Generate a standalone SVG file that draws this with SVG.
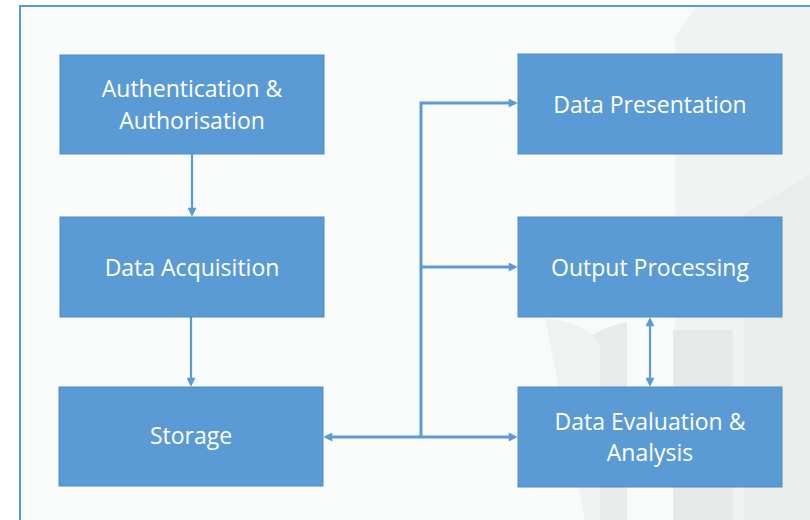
<svg xmlns="http://www.w3.org/2000/svg" width="810" height="520" viewBox="0 0 810 520">
  <defs>
    <style>
      .box { fill: #5b9bd5; stroke: #4f8bc8; stroke-width: 1; }
      .lbl { fill: #ffffff; font-family: "Open Sans", "Noto Sans", "DejaVu Sans", sans-serif; font-size: 23px; text-anchor: middle; }
      .con { fill: none; stroke: #5b9bd5; stroke-linecap: butt; stroke-linejoin: miter; }
      .thin { stroke-width: 2.2; }
      .thick { stroke-width: 3; }
    </style>
    <marker id="ah" viewBox="0 0 10 10" refX="7" refY="5" markerWidth="10" markerHeight="9" markerUnits="userSpaceOnUse" orient="auto-start-reverse">
      <path d="M0,0 L10,5 L0,10 Z" fill="#5b9bd5"/>
    </marker>
  </defs>

  <!-- background -->
  <rect x="0" y="0" width="810" height="520" fill="#ffffff"/>
  <rect x="20" y="6" width="800" height="530" fill="#f9fafa" stroke="#5b9bd5" stroke-width="2"/>

  <!-- faint watermark shapes -->
  <g id="watermark">
    <path d="M675,36 L697,7 L810,7 L810,520 L675,520 Z" fill="#f1f2f2"/>
    <path d="M744,214 L810,175 L810,520 L744,520 Z" fill="#ebecec"/>
    <path d="M673,330 L733,330 L733,520 L673,520 Z" fill="#e7e8e8"/>
    <path d="M545,318 Q575,322 592,335 L600,345 L600,520 L585,520 Z" fill="#f0f1f1"/>
    <path d="M592,335 Q610,325 627,322 L627,520 L600,520 L600,345 Z" fill="#e9eaea"/>
  </g>

  <!-- connectors -->
  <g id="connectors">
    <path class="con thin" d="M192,154 V214" marker-end="url(#ah)"/>
    <path class="con thin" d="M191,317 V384" marker-end="url(#ah)"/>
    <path class="con thick" d="M421,437 V103 H515" marker-end="url(#ah)"/>
    <path class="con thick" d="M421,267 H515" marker-end="url(#ah)"/>
    <path class="con thick" d="M326,437 H515" marker-start="url(#ah)" marker-end="url(#ah)"/>
    <path class="con thin" d="M650,320 V384" marker-start="url(#ah)" marker-end="url(#ah)"/>
  </g>

  <!-- nodes -->
  <g id="node-auth">
    <rect class="box" x="60" y="55" width="264" height="99"/>
    <text class="lbl" x="192" y="97">Authentication &amp;</text>
    <text class="lbl" x="192" y="129">Authorisation</text>
  </g>
  <g id="node-acquisition">
    <rect class="box" x="60" y="217" width="264" height="100"/>
    <text class="lbl" x="192" y="276">Data Acquisition</text>
  </g>
  <g id="node-storage">
    <rect class="box" x="59" y="387" width="264" height="99"/>
    <text class="lbl" x="191" y="444">Storage</text>
  </g>
  <g id="node-presentation">
    <rect class="box" x="518" y="54" width="264" height="100"/>
    <text class="lbl" x="650" y="113">Data Presentation</text>
  </g>
  <g id="node-output">
    <rect class="box" x="518" y="217" width="264" height="100"/>
    <text class="lbl" x="650" y="276">Output Processing</text>
  </g>
  <g id="node-evaluation">
    <rect class="box" x="518" y="387" width="264" height="100"/>
    <text class="lbl" x="650" y="430">Data Evaluation &amp;</text>
    <text class="lbl" x="650" y="461">Analysis</text>
  </g>
</svg>
